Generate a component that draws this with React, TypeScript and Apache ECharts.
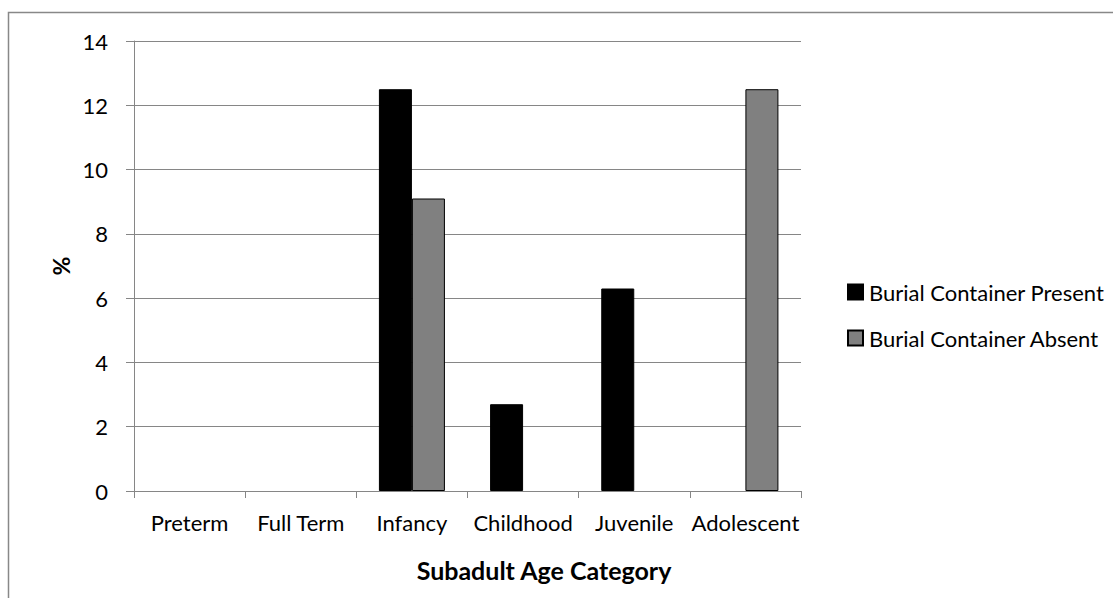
import React, { useEffect, useRef } from "react";
import * as echarts from "echarts";

const categories = ["Preterm", "Full Term", "Infancy", "Childhood", "Juvenile", "Adolescent"];
const presentValues = [0, 0, 12.5, 2.7, 6.3, 0];
const absentValues = [0, 0, 9.1, 0, 0, 12.5];
const seriesNames = ["Burial Container Present", "Burial Container Absent"];

const FONT = "Lato, 'Open Sans', sans-serif";

const toBar = (vals: number[]) => vals.map((v) => (v === 0 ? "-" : v));

export default function App() {
  const ref = useRef<HTMLDivElement>(null);
  useEffect(() => {
    if (!ref.current) return;
    const chart = echarts.init(ref.current, undefined, { renderer: "svg" });
    chart.setOption({
      animation: false,
      backgroundColor: "#fff",
      textStyle: { fontFamily: FONT },
      grid: { left: 134, top: 41, right: 312, bottom: 107, containLabel: false },
      legend: {
        orient: "vertical",
        left: 842,
        top: 276,
        itemWidth: 15,
        itemHeight: 15,
        itemGap: 24,
        icon: "rect",
        textStyle: { fontSize: 22, color: "#000", fontFamily: FONT, padding: [0, 0, 0, 1] },
        data: seriesNames,
      },
      xAxis: {
        type: "category",
        data: categories,
        axisLine: { lineStyle: { color: "#868686", width: 1 } },
        axisTick: { show: true, interval: 0, length: 7, lineStyle: { color: "#868686" } },
        axisLabel: { fontSize: 22, interval: 0, color: "#000", margin: 20, fontFamily: FONT },
      },
      yAxis: {
        type: "value",
        min: 0,
        max: 14,
        interval: 2,
        axisLine: { show: true, lineStyle: { color: "#868686" } },
        axisTick: { show: true, inside: false, length: 8, lineStyle: { color: "#868686" } },
        axisLabel: { fontSize: 22, color: "#000", margin: 26, fontFamily: FONT },
        splitLine: { show: true, lineStyle: { color: "#868686", width: 1 } },
      },
      series: [
        {
          name: seriesNames[0],
          type: "bar",
          data: toBar(presentValues),
          barWidth: 33,
          barGap: "0%",
          itemStyle: { color: "#000000", borderColor: "#000", borderWidth: 1 },
        },
        {
          name: seriesNames[1],
          type: "bar",
          data: toBar(absentValues),
          barWidth: 33,
          barGap: "0%",
          itemStyle: { color: "#808080", borderColor: "#000", borderWidth: 1 },
        },
      ],
      graphic: [
        {
          type: "rect",
          shape: { x: 8.5, y: 12.5, width: 1300, height: 800 },
          style: { fill: "none", stroke: "#888888", lineWidth: 1.5 },
          silent: true,
          z: -1,
        },
        {
          type: "text",
          x: 61,
          y: 266,
          rotation: Math.PI / 2,
          style: {
            text: "%",
            fontSize: 23,
            fontWeight: "bold",
            fontFamily: FONT,
            fill: "#000",
            align: "center",
            verticalAlign: "middle",
          },
        },
        {
          type: "text",
          x: 544,
          y: 570,
          style: {
            text: "Subadult Age Category",
            fontSize: 25,
            fontWeight: "bold",
            fontFamily: FONT,
            fill: "#000",
            align: "center",
            verticalAlign: "middle",
          },
        },
      ],
    });
    return () => chart.dispose();
  }, []);
  return (
    <div
      ref={ref}
      style={{ position: "fixed", left: 0, top: 0, width: 1113, height: 598 }}
    />
  );
}
